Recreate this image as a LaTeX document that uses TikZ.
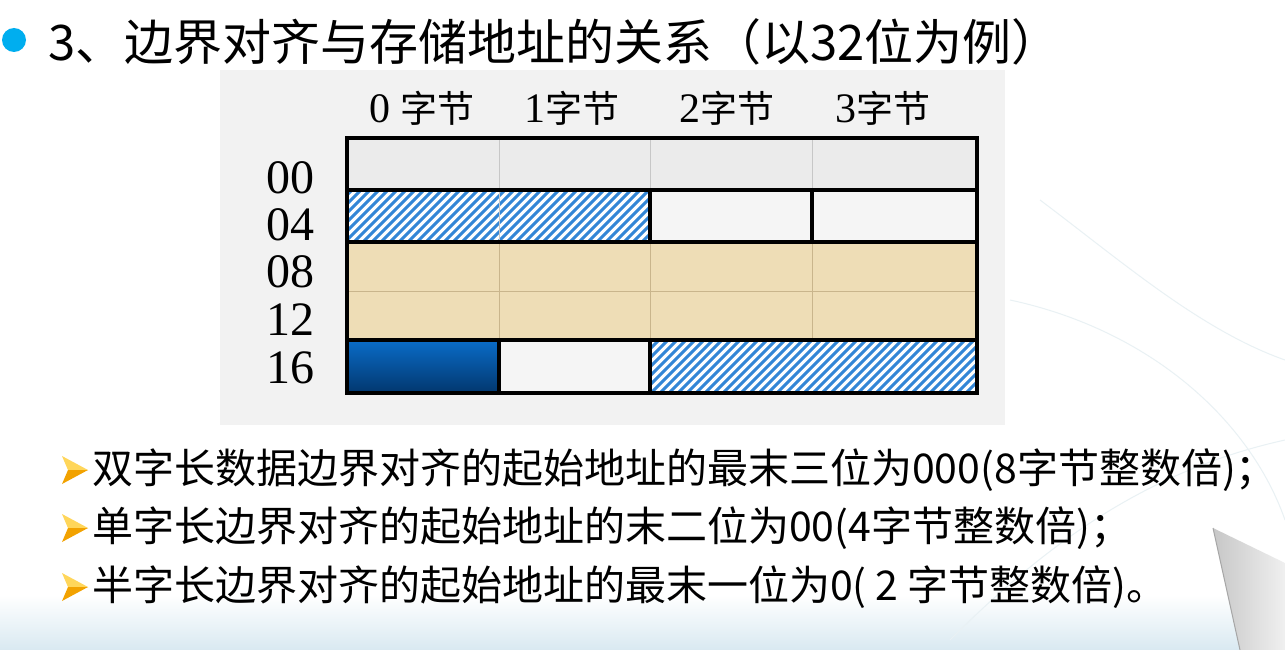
\documentclass[tikz,border=0pt]{standalone}
\usepackage{fontspec}
\setmainfont{Liberation Serif}
\newfontfamily\cjk{Noto Sans CJK SC}
\definecolor{bulletcyan}{HTML}{00AEEF}
\definecolor{panelgray}{HTML}{F2F2F2}
\definecolor{row00}{HTML}{EBEBEB}
\definecolor{cellwhite}{HTML}{F5F5F5}
\definecolor{tan}{HTML}{EEDDB6}
\definecolor{tanline}{HTML}{C9B58C}
\definecolor{hatchblue}{HTML}{3386D6}
\definecolor{darkblueA}{HTML}{0A6CC8}
\definecolor{darkblueB}{HTML}{02376E}
\definecolor{arrowlight}{HTML}{FFD65A}
\definecolor{arrowdark}{HTML}{F2A200}
\definecolor{bgblue}{HTML}{D9E9F1}
\definecolor{decor}{HTML}{E9F1F4}
\tikzset{
  titletext/.style={font=\cjk\fontsize{49}{52}\selectfont, anchor=west, inner sep=0pt},
  itemtext/.style={font=\cjk\fontsize{41}{44}\selectfont, anchor=west, inner sep=0pt},
  rowlab/.style={font=\fontsize{48}{50}\selectfont, inner sep=0pt},
  colhead/.style={font=\fontsize{42}{44}\selectfont, inner sep=0pt},
  thickrule/.style={line width=4.5pt, draw=black},
  thingray/.style={line width=1pt, draw=black!22},
  thintan/.style={line width=1pt, draw=tanline},
  hatchline/.style={line width=3pt, draw=hatchblue},
  arrowbullet/.pic={
    \fill[arrowlight] (-13,-14) -- (13,0) -- (-7,0) -- cycle;
    \fill[arrowdark] (-7,0) -- (13,0) -- (-13,14) -- cycle;
  }
}
\newcommand{\hz}[1]{{\cjk\fontsize{37}{40}\selectfont #1}}
% hatch: x1, y1 (top), x2, y2 (bottom)
\newcommand{\hatchbox}[4]{%
  \fill[white] (#1,#2) rectangle (#3,#4);
  \begin{scope}
    \clip (#1,#2) rectangle (#3,#4);
    \pgfmathsetmacro{\hh}{#4-#2}
    \foreach \xx in {-60,-51,...,#3} {
      \draw[hatchline] (\xx+#1-#1,#4) -- ++(\hh,-\hh);
    }
  \end{scope}
}
\begin{document}
\begin{tikzpicture}[x=1pt,y=-1pt]
\useasboundingbox (0,0) rectangle (1285,650);
\fill[white] (0,0) rectangle (1285,650);
% background decoration
\shade[top color=white, bottom color=bgblue] (0,595) rectangle (1285,650);
\draw[decor, line width=1pt] (1010,300) .. controls (1150,330) and (1250,420) .. (1285,520);
\draw[decor, line width=1pt] (950,640) .. controls (1050,540) and (1150,470) .. (1285,440);
\draw[decor, line width=1pt] (1040,200) .. controls (1120,260) and (1200,330) .. (1285,360);
\shade[left color=black!22, right color=black!6] (1213,528) -- (1285,563) -- (1285,650) -- (1240,650) -- cycle;
\draw[black!35, line width=1pt] (1213,528) -- (1240,650);

% title
\fill[bulletcyan] (14,40) circle[radius=12];
\node[titletext] (title) at (48,42) {3、边界对齐与存储地址的关系（以32位为例）};

% panel
\fill[panelgray] (220,70) rectangle (1005,425);

% column headers
\node[colhead] (h0) at (422,108) {0 \hz{字节}};
\node[colhead] (h1) at (572,108) {1\hz{字节}};
\node[colhead] (h2) at (727,108) {2\hz{字节}};
\node[colhead] (h3) at (883,108) {3\hz{字节}};

% row labels
\node[rowlab] (r00) at (290,178) {00};
\node[rowlab] (r04) at (290,225) {04};
\node[rowlab] (r08) at (290,272) {08};
\node[rowlab] (r12) at (290,320) {12};
\node[rowlab] (r16) at (290,368) {16};

% row 00
\fill[row00] (347,138) rectangle (977,190);
\draw[thingray] (499,138) -- (499,190) (650,138) -- (650,190) (812,138) -- (812,190);
% row 04
\hatchbox{347}{190}{650}{242}
\draw[thingray] (499,190) -- (499,242);
\fill[cellwhite] (650,190) rectangle (977,242);
% rows 08 / 12
\fill[tan] (347,242) rectangle (977,340);
\draw[thintan] (347,291) -- (977,291) (499,242) -- (499,340) (650,242) -- (650,340) (812,242) -- (812,340);
% row 16
\shade[top color=darkblueA, bottom color=darkblueB] (347,340) rectangle (499,393);
\fill[cellwhite] (499,340) rectangle (650,393);
\hatchbox{650}{340}{977}{393}
% thick rules
\draw[thickrule] (347,138) rectangle (977,393);
\draw[thickrule] (347,190) -- (977,190) (347,242) -- (977,242) (347,340) -- (977,340);
\draw[thickrule] (650,190) -- (650,242) (812,190) -- (812,242);
\draw[thickrule] (499,340) -- (499,393) (650,340) -- (650,393);

% bullet items
\pic at (75,470) {arrowbullet};
\node[itemtext] (l1) at (92,470) {双字长数据边界对齐的起始地址的最末三位为000(8字节整数倍)；};
\pic at (75,528) {arrowbullet};
\node[itemtext] (l2) at (92,528) {单字长边界对齐的起始地址的末二位为00(4字节整数倍)；};
\pic at (75,587) {arrowbullet};
\node[itemtext] (l3) at (92,587) {半字长边界对齐的起始地址的最末一位为0( 2 字节整数倍)。};
\end{tikzpicture}
\end{document}
